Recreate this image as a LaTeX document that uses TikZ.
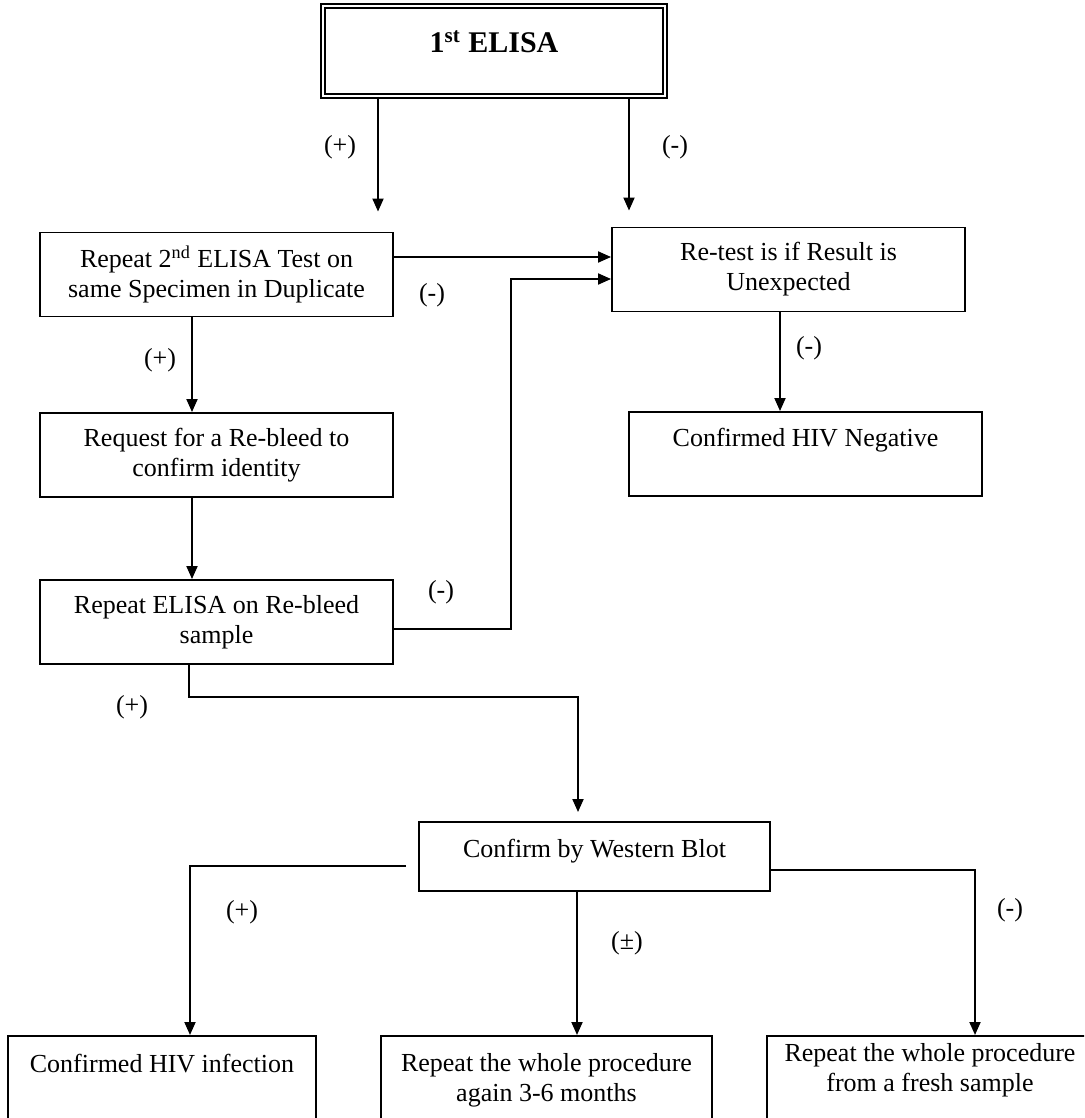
\documentclass[tikz,border=0pt]{standalone}
\usepackage{fontspec}
\setmainfont{Liberation Serif}
\usetikzlibrary{arrows.meta}

\tikzset{
    box/.style={draw, black, line width=0.95pt, align=center, minimum width=176.5pt, minimum height=42pt, font=\fontsize{13}{15}\selectfont},
    arr/.style={-{Triangle[length=6.5pt,width=5.5pt]}, line width=0.95pt},
    sign/.style={font=\fontsize{13}{15}\selectfont}
}

\begin{document}
\begin{tikzpicture}[x=0.5pt, y=-0.5pt]
        \fill[white] (0,0) rectangle (1084,1118);
        \useasboundingbox (0,0) rectangle (1084,1118);
        \clip (0,0) rectangle (1084,1118);

        \node[box, double, double distance=1.1pt, line width=0.9pt, minimum width=171pt, minimum height=45pt, font=\fontsize{15}{18}\selectfont\bfseries, text depth=9.5pt] (elisa) at (494,51) {1\textsuperscript{st} ELISA};

        \node[box] (rep2) at (216.5,274.5) {Repeat 2\textsuperscript{nd} ELISA Test on\\same Specimen in Duplicate};
        \node[box] (retest) at (788.5,269.5) {Re-test is if Result is\\Unexpected};
        \node[box, text depth=16.5pt] (neg) at (805.5,454) {Confirmed HIV Negative};
        \node[box] (rebleed) at (216.5,455) {Request for a Re-bleed to\\confirm identity};
        \node[box] (repE) at (216.5,622) {Repeat ELISA on Re-bleed\\sample};
        \node[box, minimum width=175.5pt, minimum height=34.5pt, text depth=8pt] (wb) at (594.5,856.5) {Confirm by Western Blot};

        \node[box, anchor=north, minimum width=154pt, minimum height=44pt, text depth=16.5pt] (inf) at (162,1035) {Confirmed HIV infection};
        \node[box, anchor=north, minimum width=165.5pt, minimum height=44pt] (months) at (546.5,1035) {Repeat the whole procedure\\again 3-6 months};
        \node[box, anchor=north, minimum width=163pt, minimum height=44pt, text depth=12.5pt] (fresh) at (930,1035) {Repeat the whole procedure\\from a fresh sample};

        \draw[arr, shorten >=10pt] (378,0 |- elisa.south) -- (378,0 |- rep2.north);
        \draw[arr, shorten >=8pt] (629,0 |- elisa.south) -- (629,0 |- retest.north);
        \draw[arr] (rep2.east |- 0,257) -- (retest.west |- 0,257);
        \draw[arr] (780,0 |- retest.south) -- (780,0 |- neg.north);
        \draw[arr] (192,0 |- rep2.south) -- (192,0 |- rebleed.north);
        \draw[arr] (192,0 |- rebleed.south) -- (192,0 |- repE.north);
        \draw[arr] (repE.east |- 0,629) -| (511,279) -- (retest.west |- 0,279);
        \draw[arr, shorten >=4.5pt] (189,0 |- repE.south) |- (578,697) -- (578,0 |- wb.north);
        \draw[arr, shorten <=6pt] (wb.west |- 0,866) -| (190,0 |- inf.north);
        \draw[arr] (577,0 |- wb.south) -- (577,0 |- months.north);
        \draw[arr] (wb.east |- 0,870) -| (975,0 |- fresh.north);

        \node[sign] (p1) at (340,147) {(+)};
        \node[sign] (m1) at (675,147) {(-)};
        \node[sign] (m2) at (432,295) {(-)};
        \node[sign] (p2) at (160,360) {(+)};
        \node[sign] (m3) at (809,348) {(-)};
        \node[sign] (m4) at (441,592) {(-)};
        \node[sign] (p3) at (132,707) {(+)};
        \node[sign] (p4) at (242,912) {(+)};
        \node[sign] (pm) at (627,943) {(±)};
        \node[sign] (m5) at (1010,910) {(-)};

\end{tikzpicture}
\end{document}
